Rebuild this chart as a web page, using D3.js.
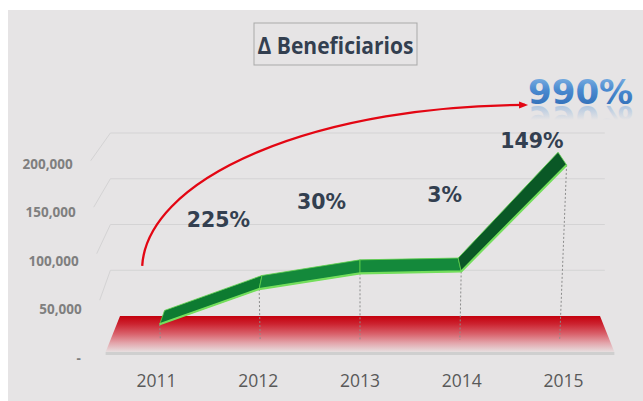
<!DOCTYPE html>
<html><head><meta charset="utf-8">
<script src="https://cdn.jsdelivr.net/npm/d3@7"></script>
<style>html,body{margin:0;padding:0;background:#fff;} svg{display:block}</style>
</head><body>
<svg id="chart" width="643" height="401" xmlns:xlink="http://www.w3.org/1999/xlink"></svg>
<script>
// ---------------- data ----------------
const years = ["2011", "2012", "2013", "2014", "2015"];
const beneficiarios = [17000, 55000, 72000, 74000, 189000];
const growthLabels = ["225%", "30%", "3%", "149%"];
const totalGrowth = "990%";
const tickValues = [0, 50000, 100000, 150000, 200000];
const tickLabels = ["-", "50,000", "100,000", "150,000", "200,000"];
const chartTitle = "Δ Beneficiarios";

// ---------------- layout / projection ----------------
const W = 643, H = 401;
const svg = d3.select("#chart");
const vMax = 200000;
const cx = 360;
const uYear = d3.scalePoint().domain(years).range([-2, 2]);          // category position
const spacing = d3.scaleLinear().domain([0, 1]).range([101.75, 96]); // px per category unit by depth
const floorY = d3.scaleLinear().domain([0, 1]).range([352, 316]);    // y of value 0 by depth
const pxPer = d3.scaleLinear().domain([0, 1]).range([46.6 / 50000, 45.75 / 50000]);
const spread = d3.scaleLinear().domain([0, 1]).range([0.055, 0]);    // vertical convergence
function proj(u, v, d) {
  return [cx + u * spacing(d) * (1 + spread(d) * v / vMax), floorY(d) - v * pxPer(d)];
}
const yAxis = d3.scaleLinear().domain([0, vMax]).range([358, 164]);
const dFront = 0.333, dBack = 0.72, dSide = 0.15;

const defs = svg.append("defs");
const gRed = defs.append("linearGradient").attr("id", "redFloor").attr("x1", 0).attr("y1", 0).attr("x2", 0).attr("y2", 1);
[[0, "#c4000c"], [0.22, "#cc2330"], [0.5, "#d9626c"], [0.75, "#e3a5ab"], [1, "#e7dfe0"]]
  .forEach(s => gRed.append("stop").attr("offset", s[0]).attr("stop-color", s[1]));
const gBlue = defs.append("linearGradient").attr("id", "blueTxt").attr("x1", 0).attr("y1", 0).attr("x2", 0).attr("y2", 1);
[[0, "#8fbde8"], [0.45, "#4a8ad0"], [1, "#2a66b0"]]
  .forEach(s => gBlue.append("stop").attr("offset", s[0]).attr("stop-color", s[1]));
const gRefl = defs.append("linearGradient").attr("id", "reflTxt").attr("x1", 0).attr("y1", 0).attr("x2", 0).attr("y2", 1);
[[0, 0], [0.45, 0], [0.8, 0.45], [1, 0.5]]
  .forEach(s => gRefl.append("stop").attr("offset", s[0]).attr("stop-color", "#6fa3da").attr("stop-opacity", s[1]));
defs.append("marker").attr("id", "arrowHead").attr("markerUnits", "userSpaceOnUse")
  .attr("markerWidth", 10).attr("markerHeight", 8).attr("refX", 6).attr("refY", 3.5).attr("orient", "auto")
  .append("path").attr("d", "M0,0 L9,3.5 L0,7 Z").attr("fill", "#e30613");

// panel
svg.append("rect").attr("x", 8).attr("y", 10).attr("width", W - 8).attr("height", H - 10).attr("fill", "#e6e4e5");

// gridlines (back wall + left side wall)
const line = d3.line();
svg.append("g").selectAll("path").data(tickValues.filter(v => v > 0)).join("path")
  .attr("d", v => line([proj(-2.55, v, dSide), proj(-2.6, v, 1), proj(2.55, v, 1)]))
  .attr("fill", "none").attr("stroke", "#d4d3d4").attr("stroke-width", 1);

// floor (red base)
svg.append("path")
  .attr("d", line([proj(-2.5, 0, 1), proj(2.5, 0, 1), proj(2.5, 0, 0), proj(-2.5, 0, 0)]) + "Z")
  .attr("fill", "url(#redFloor)");
const fl = proj(-2.5, 0, 0), fr = proj(2.5, 0, 0);
svg.append("rect").attr("x", fl[0]).attr("y", fl[1]).attr("width", fr[0] - fl[0]).attr("height", 3)
  .attr("fill", "#cfcfcf");

// drop lines
svg.append("g").selectAll("line").data(years).join("line")
  .attr("x1", (y, i) => proj(uYear(y), beneficiarios[i], dFront)[0])
  .attr("y1", (y, i) => proj(uYear(y), beneficiarios[i], dFront)[1])
  .attr("x2", y => proj(uYear(y), 0, dFront)[0])
  .attr("y2", y => proj(uYear(y), 0, dFront)[1])
  .attr("stroke", "#8c8c8c").attr("stroke-width", 1).attr("stroke-dasharray", "2,2");

// ribbon
const front = years.map((y, i) => proj(uYear(y), beneficiarios[i], dFront));
const back = years.map((y, i) => proj(uYear(y), beneficiarios[i], dBack));
const segColors = ["#0d7b31", "#14893b", "#14893b", "#0a5826"];
const segs = d3.range(years.length - 1);
svg.append("g").selectAll("path").data(segs).join("path")
  .attr("d", i => line([front[i], front[i + 1], back[i + 1], back[i]]) + "Z")
  .attr("fill", i => segColors[i]).attr("stroke", "#5fd24b").attr("stroke-width", 0.8)
  .attr("stroke-linejoin", "round");
svg.append("path").attr("d", line(front)).attr("fill", "none")
  .attr("stroke", "#74de5c").attr("stroke-width", 2.2).attr("stroke-linejoin", "round");

// y tick labels
svg.append("g").selectAll("text").data(tickValues).join("text")
  .attr("x", v => proj(-2.55, v, dSide)[0] - (v === 0 ? 22 : 18))
  .attr("y", v => yAxis(v)).attr("dy", "0.35em")
  .attr("text-anchor", "end").attr("font-family", "Open Sans").attr("font-weight", 700)
  .attr("font-size", 13.5).attr("fill", "#7f7f7f")
  .text((v, i) => tickLabels[i]);

// year labels
svg.append("g").selectAll("text").data(years).join("text")
  .attr("x", y => proj(uYear(y), 0, 0)[0])
  .attr("y", floorY(0) + 35)
  .attr("text-anchor", "middle").attr("font-family", "Open Sans").attr("font-size", 17.5)
  .attr("fill", "#595959").text(y => y);

// growth labels
const labelDx = [9, 12, 34, 18], labelDy = [-87, -79.5, -78, -78];
svg.append("g").selectAll("text").data(growthLabels).join("text")
  .attr("x", (t, i) => (front[i][0] + front[i + 1][0]) / 2 + labelDx[i])
  .attr("y", (t, i) => (front[i][1] + front[i + 1][1]) / 2 + labelDy[i])
  .attr("dy", "0.36em").attr("text-anchor", "middle")
  .attr("font-family", "DejaVu Sans").attr("font-weight", 700).attr("font-size", 20.5)
  .attr("fill", "#333f50").text(t => t);

// total growth label + reflection (reflection reuses the same text node)
const last = front[front.length - 1];
const tx = last[0] + 14, tb = last[1] - 61;
const bigG = defs.append("g").attr("id", "bigTotal");
bigG.append("text").attr("x", tx).attr("y", tb)
  .attr("text-anchor", "middle").attr("font-family", "DejaVu Sans").attr("font-weight", 700)
  .attr("font-size", 34).text(totalGrowth);
svg.append("use").attr("href", "#bigTotal")
  .attr("transform", `translate(0,${2 * tb + 2}) scale(1,-1)`)
  .attr("fill", "url(#reflTxt)");
const big = svg.append("text").attr("x", tx).attr("y", tb)
  .attr("text-anchor", "middle").attr("font-family", "DejaVu Sans").attr("font-weight", 700)
  .attr("font-size", 34).attr("fill", "url(#blueTxt)").text(totalGrowth);
const bb = big.node().getBBox();

// red arrow
const s = proj(uYear(years[0]) - 0.15, 80000, dFront);
const ex = bb.x - 3, ey = tb + 1;
svg.append("path").attr("d", `M${s[0]},${s[1]} A385,165 0 0 1 ${ex},${ey}`)
  .attr("fill", "none").attr("stroke", "#e30613").attr("stroke-width", 2.3)
  .attr("marker-end", "url(#arrowHead)");

// title
const tcx = cx - 24.5;
svg.append("rect").attr("x", tcx - 81.5).attr("y", 23).attr("width", 163).attr("height", 42)
  .attr("fill", "none").attr("stroke", "#a9a9a9").attr("stroke-width", 1);
svg.append("text").attr("x", tcx).attr("y", 54).attr("text-anchor", "middle")
  .attr("font-family", "Open Sans").attr("font-weight", 700).attr("font-size", 23)
  .attr("textLength", 156).attr("lengthAdjust", "spacingAndGlyphs")
  .attr("fill", "#333f50").text(chartTitle);
</script>
</body></html>
